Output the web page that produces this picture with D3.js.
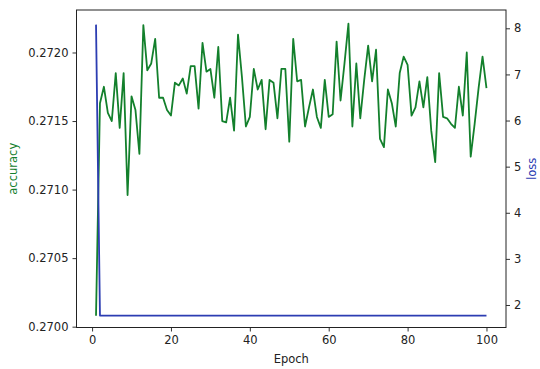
<!DOCTYPE html>
<html><head><meta charset="utf-8">
<script src="https://cdn.jsdelivr.net/npm/d3@7"></script>
<style>body{margin:0;background:#fff}svg{display:block}</style>
</head><body>
<svg id="c" width="540" height="369"></svg>
<script>
const epochs = d3.range(1, 101);
const accuracy = [0.27008,0.27163,0.27175,0.27156,0.27150,0.27185,0.27145,0.27185,0.27096,0.27168,
0.27158,0.27126,0.27220,0.27187,0.27192,0.27210,0.27167,0.27167,0.27158,0.27154,
0.27178,0.27176,0.27181,0.27170,0.27190,0.27190,0.27159,0.27207,0.27186,0.27188,
0.27167,0.27204,0.27150,0.27149,0.27167,0.27143,0.27213,0.27182,0.27146,0.27153,
0.27188,0.27173,0.27180,0.27144,0.27180,0.27178,0.27152,0.27188,0.27188,0.27135,
0.27210,0.27179,0.27180,0.27146,0.27160,0.27173,0.27153,0.27145,0.27180,0.27153,
0.27155,0.27208,0.27165,0.27192,0.27221,0.27146,0.27192,0.27152,0.27180,0.27205,
0.27179,0.27202,0.27137,0.27131,0.27173,0.27163,0.27146,0.27185,0.27197,0.27191,
0.27154,0.27160,0.27179,0.27160,0.27182,0.27143,0.27120,0.27185,0.27153,0.27152,
0.27148,0.27145,0.27175,0.27154,0.27200,0.27124,0.27148,0.27174,0.27197,0.27174];
const loss = [8.08,1.77,1.77,1.77,1.77,1.77,1.77,1.77,1.77,1.77,
1.77,1.77,1.77,1.77,1.77,1.77,1.77,1.77,1.77,1.77,
1.77,1.77,1.77,1.77,1.77,1.77,1.77,1.77,1.77,1.77,
1.77,1.77,1.77,1.77,1.77,1.77,1.77,1.77,1.77,1.77,
1.77,1.77,1.77,1.77,1.77,1.77,1.77,1.77,1.77,1.77,
1.77,1.77,1.77,1.77,1.77,1.77,1.77,1.77,1.77,1.77,
1.77,1.77,1.77,1.77,1.77,1.77,1.77,1.77,1.77,1.77,
1.77,1.77,1.77,1.77,1.77,1.77,1.77,1.77,1.77,1.77,
1.77,1.77,1.77,1.77,1.77,1.77,1.77,1.77,1.77,1.77,
1.77,1.77,1.77,1.77,1.77,1.77,1.77,1.77,1.77,1.77];
const epochTicks = [0, 20, 40, 60, 80, 100];
const accTicks = [0.2700, 0.2705, 0.2710, 0.2715, 0.2720];
const lossTicks = [2, 3, 4, 5, 6, 7, 8];

const L = 76.5, R = 506, T = 10, B = 327.5;
const font = "DejaVu Sans, sans-serif";
const green = "#13802c", blue = "#2c3db2";

const svg = d3.select("#c");
const x = d3.scaleLinear().domain([-3.95, 104.95]).range([L, R]);
const yA = d3.scaleLinear().domain([0.269994, 0.27231]).range([B, T]);
const yL = d3.scaleLinear().domain([1.512, 8.397]).range([B, T]);

function style(g){
  g.selectAll("text").attr("font-family", font).attr("font-size", "11.5px").attr("fill", "#222");
  g.selectAll("line").attr("stroke", "#333");
  g.select(".domain").remove();
}

svg.append("g").attr("transform", `translate(0,${B})`)
  .call(d3.axisBottom(x).tickValues(epochTicks).tickFormat(d3.format("d")).tickSize(4).tickPadding(4))
  .call(style);
svg.append("g").attr("transform", `translate(${L},0)`)
  .call(d3.axisLeft(yA).tickValues(accTicks).tickFormat(d3.format(".4f")).tickSize(4).tickPadding(4))
  .call(style);
svg.append("g").attr("transform", `translate(${R},0)`)
  .call(d3.axisRight(yL).tickValues(lossTicks).tickFormat(d3.format("d")).tickSize(4).tickPadding(4))
  .call(style);

const accLine = d3.line().x((d, i) => x(epochs[i])).y(d => yA(d));
const lossLine = d3.line().x((d, i) => x(epochs[i])).y(d => yL(d));

svg.append("path").datum(accuracy).attr("d", accLine)
  .attr("fill", "none").attr("stroke", green).attr("stroke-width", 1.8).attr("stroke-linejoin", "round");
svg.append("path").datum(loss).attr("d", lossLine)
  .attr("fill", "none").attr("stroke", blue).attr("stroke-width", 1.8).attr("stroke-linejoin", "round");

svg.append("rect").attr("x", L).attr("y", T).attr("width", R - L).attr("height", B - T)
  .attr("fill", "none").attr("stroke", "#222").attr("stroke-width", 1);

svg.append("text").attr("x", (L + R) / 2).attr("y", 363).attr("text-anchor", "middle")
  .attr("font-family", font).attr("font-size", "11.5px").attr("fill", "#222").text("Epoch");
svg.append("text").attr("transform", `translate(17,${(T + B) / 2}) rotate(-90)`).attr("text-anchor", "middle")
  .attr("font-family", font).attr("font-size", "11.5px").attr("fill", green).text("accuracy");
svg.append("text").attr("transform", `translate(536,${(T + B) / 2}) rotate(-90)`).attr("text-anchor", "middle")
  .attr("font-family", font).attr("font-size", "11.5px").attr("fill", blue).text("loss");
</script>
</body></html>
